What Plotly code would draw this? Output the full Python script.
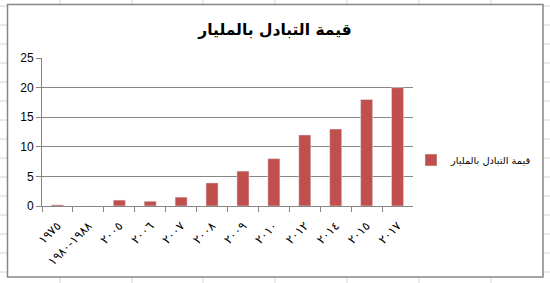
import plotly.graph_objects as go

categories = ["١٩٧٥", "١٩٨٠\u200e-\u200e١٩٨٨", "٢٠٠٥", "٢٠٠٦", "٢٠٠٧", "٢٠٠٨", "٢٠٠٩", "٢٠١٠", "٢٠١٢", "٢٠١٤", "٢٠١٥", "٢٠١٧"]
values = [0.2, 0, 1, 0.8, 1.5, 3.9, 5.9, 8, 12, 13, 18, 20]
series_name = "قيمة التبادل بالمليار"
title_text = "قيمة التبادل بالمليار"
y_ticks = [0, 5, 10, 15, 20, 25]

W, H = 550, 283
bar_color = "#C0504D"
axis_gray = "#868686"
sheet_grid = "#D4D4D4"

fig = go.Figure()
fig.add_trace(go.Bar(x=categories, y=values, name=series_name, marker_color=bar_color,
                     showlegend=True))

shapes = []
# spreadsheet gridlines behind the chart object
for px in [60, 132, 203, 275, 347, 419, 491]:
    shapes.append(dict(type="line", xref="paper", yref="paper", x0=px / W, x1=px / W, y0=0, y1=1,
                       line=dict(color=sheet_grid, width=1), layer="below"))
for py in range(6, 283, 19):
    shapes.append(dict(type="line", xref="paper", yref="paper", x0=0, x1=1, y0=1 - py / H, y1=1 - py / H,
                       line=dict(color=sheet_grid, width=1), layer="below"))
# chart area
shapes.append(dict(type="rect", xref="paper", yref="paper", x0=7.5 / W, x1=543 / W, y0=1 - 277 / H, y1=1 - 4.5 / H,
                   fillcolor="white", line=dict(color=axis_gray, width=1.5), layer="below"))

fig.update_layout(
    width=W, height=H,
    margin=dict(l=0, r=0, t=0, b=0),
    paper_bgcolor="white",
    plot_bgcolor="rgba(0,0,0,0)",
    bargap=0.61,
    shapes=shapes,
    title=dict(text="<b>" + title_text + "</b>", x=0.5, xanchor="center", y=1 - 30 / H, yanchor="middle",
               font=dict(family="DejaVu Sans", size=15.5, color="black")),
    legend=dict(x=411 / W, xanchor="left", y=1 - 160 / H, yanchor="middle",
                font=dict(family="DejaVu Sans", size=9.8, color="black"),
                bgcolor="rgba(0,0,0,0)", itemwidth=30),
    xaxis=dict(domain=[42 / W, 413 / W], showline=True, linecolor=axis_gray, linewidth=1,
               ticks="outside", tickson="boundaries", ticklen=5, tickcolor=axis_gray,
               tickangle=-45, ticklabelstandoff=7,
               tickfont=dict(family="DejaVu Sans", size=12, color="black"),
               showgrid=False, automargin=False, type="category"),
    yaxis=dict(domain=[1 - 206 / H, 1 - 58 / H], range=[0, 25], tickvals=y_ticks,
               showline=True, linecolor=axis_gray, linewidth=1,
               ticks="outside", ticklen=5, tickcolor=axis_gray,
               showgrid=True, gridcolor=axis_gray, gridwidth=1, zeroline=False,
               tickfont=dict(family="Liberation Sans", size=12, color="black"), automargin=False),
)

fig.write_html("out.html")
